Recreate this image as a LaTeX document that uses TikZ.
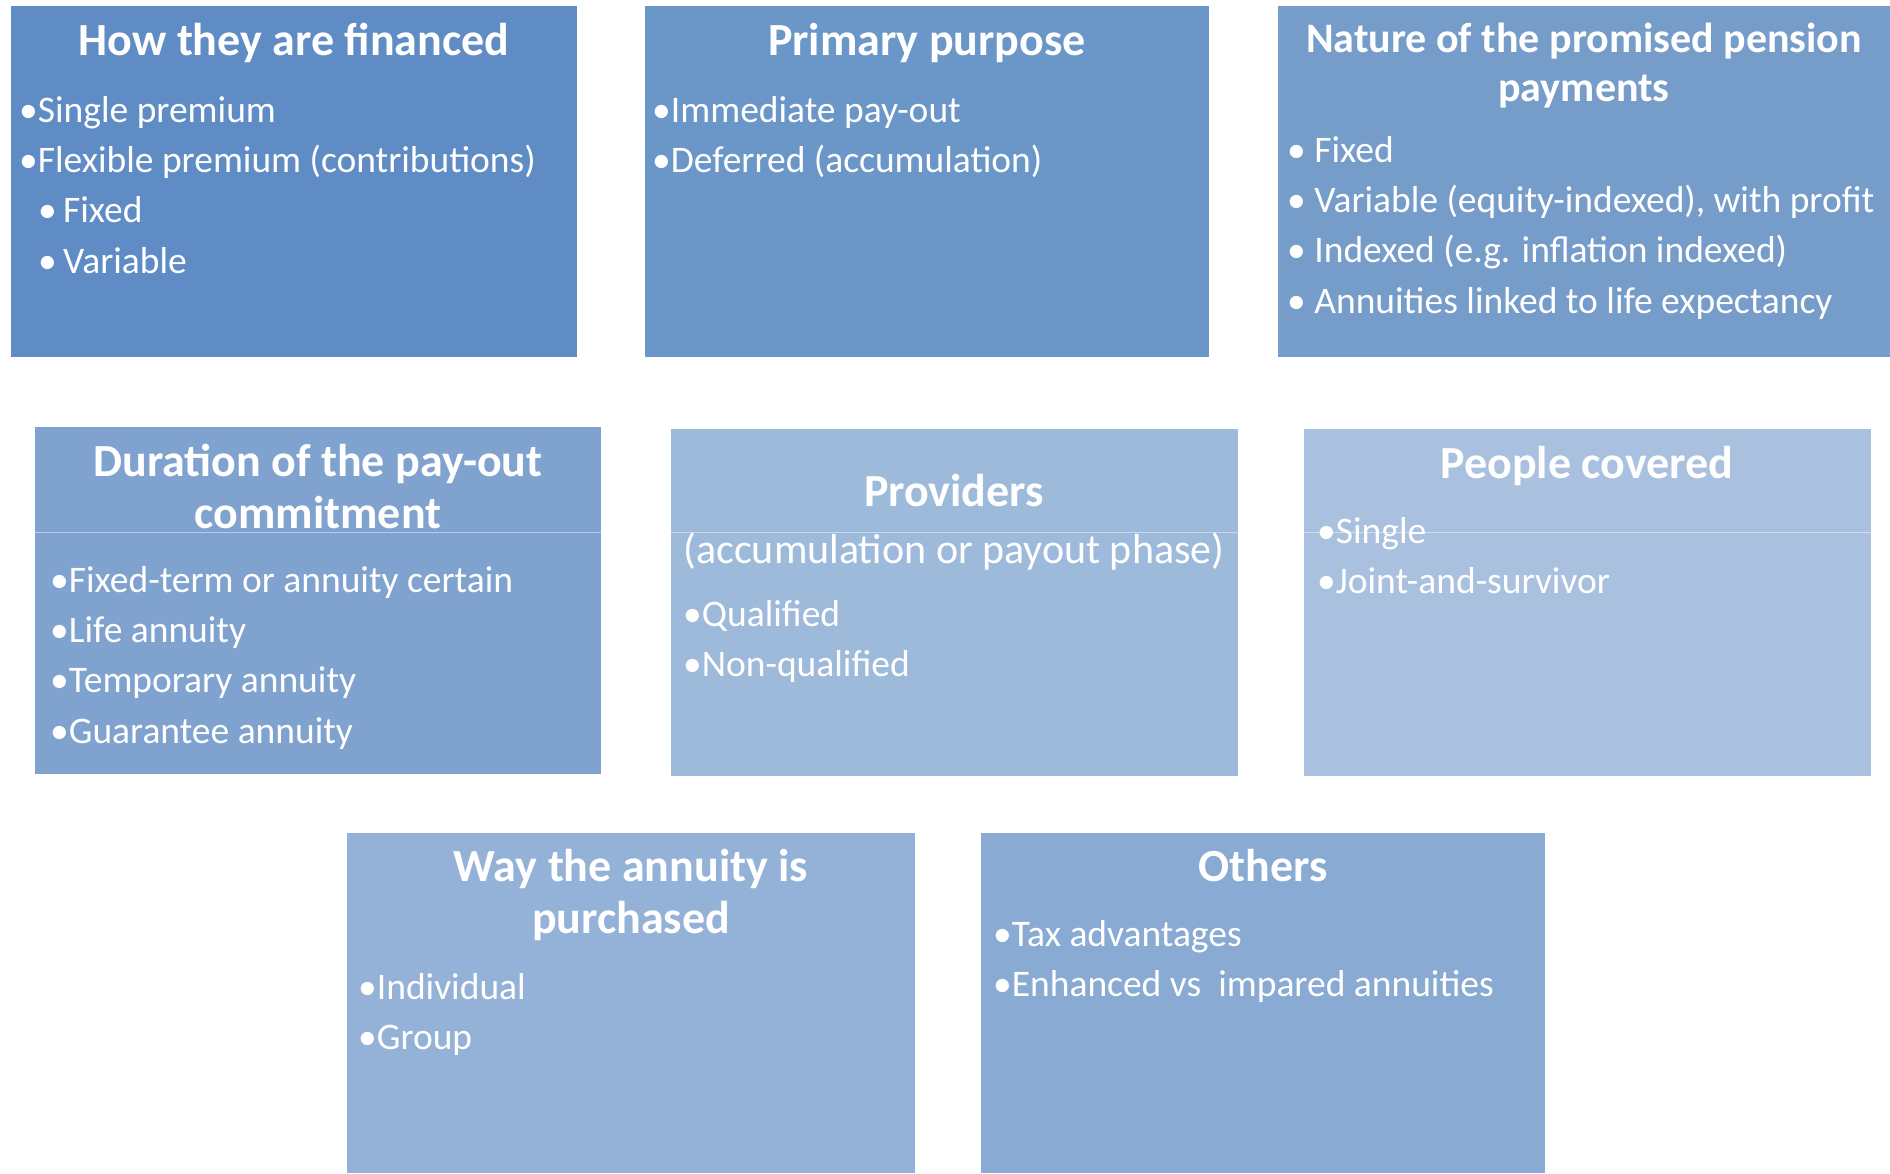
\documentclass[tikz,border=0pt]{standalone}
\usepackage{fontspec}
\setmainfont{Carlito}
\usetikzlibrary{positioning}

\definecolor{finblue}{RGB}{95,140,196}
\definecolor{purblue}{RGB}{106,150,200}
\definecolor{natblue}{RGB}{118,156,202}
\definecolor{durblue}{RGB}{127,162,207}
\definecolor{problue}{RGB}{158,186,219}
\definecolor{pplblue}{RGB}{169,192,222}
\definecolor{wayblue}{RGB}{148,177,216}
\definecolor{othblue}{RGB}{137,170,211}

\begin{document}
\begin{tikzpicture}[x=1pt, y=-1pt, node distance=16pt,
    catbox/.style={rectangle, inner sep=0pt, anchor=north west},
    ttl/.style={text=white, font=\bfseries\fontsize{46}{52}\selectfont, inner sep=0pt, text height=31pt, text depth=10pt, anchor=base},
    itm/.style={text=white, font=\fontsize{37.5}{46}\selectfont, inner sep=0pt, text height=25pt, text depth=9pt, anchor=base west},
    sepline/.style={draw=white, draw opacity=0.45, line width=1pt}]

    \useasboundingbox[fill=white] (0,0) rectangle (1890,1173);

    % boxes
    \node[catbox, fill=finblue, minimum width=566pt, minimum height=351pt] (fin) at (11,6) {};
    \node[catbox, fill=purblue, minimum width=564pt, minimum height=351pt] (pur) at (645,6) {};
    \node[catbox, fill=natblue, minimum width=612pt, minimum height=351pt] (nat) at (1278,6) {};
    \node[catbox, fill=durblue, minimum width=566pt, minimum height=347pt] (dur) at (35,427) {};
    \node[catbox, fill=problue, minimum width=567pt, minimum height=347pt] (pro) at (671,429) {};
    \node[catbox, fill=pplblue, minimum width=567pt, minimum height=347pt] (ppl) at (1304,429) {};
    \node[catbox, fill=wayblue, minimum width=568pt, minimum height=340pt] (way) at (347,833) {};
    \node[catbox, fill=othblue, minimum width=564pt, minimum height=340pt] (oth) at (981,833) {};

    \draw[sepline] ([yshift=-105pt]dur.north west) -- ([yshift=-105pt]dur.north east);
    \draw[sepline] ([yshift=-103pt]pro.north west) -- ([yshift=-103pt]pro.north east);
    \draw[sepline] ([yshift=-103pt]ppl.north west) -- ([yshift=-103pt]ppl.north east);

    % how they are financed
    \node[ttl] (fint) at (294,55) {How they are financed};
    \node[itm] (fin1) at (19,122) {•Single premium};
    \node[itm, below=of fin1.south west, anchor=north west] (fin2) {•Flexible premium (contributions)};
    \node[itm, below=of fin2.south west, anchor=north west, xshift=19pt] (fin3) {•\,Fixed};
    \node[itm, below=of fin3.south west, anchor=north west] (fin4) {•\,Variable};

    % primary purpose
    \node[ttl] (purt) at (927,55) {Primary purpose};
    \node[itm] (pur1) at (652,122) {•Immediate pay-out};
    \node[itm, below=of pur1.south west, anchor=north west] (pur2) {•Deferred (accumulation)};

    % nature of the payments
    \node[ttl, font=\bfseries\fontsize{42}{50}\selectfont] (natt) at (1584,52) {Nature of the promised pension};
    \node[ttl, font=\bfseries\fontsize{42}{50}\selectfont, below=8pt of natt] (natt2) {payments};
    \node[itm] (nat1) at (1287,162) {• Fixed};
    \node[itm, below=of nat1.south west, anchor=north west] (nat2) {• Variable (equity-indexed), with profit};
    \node[itm, below=of nat2.south west, anchor=north west] (nat3) {• Indexed (e.g. inflation indexed)};
    \node[itm, below=of nat3.south west, anchor=north west] (nat4) {• Annuities linked to life expectancy};

    % duration
    \node[ttl] (durt) at (318,476) {Duration of the pay-out};
    \node[ttl, below=11pt of durt] (durt2) {commitment};
    \node[itm] (dur1) at (50,592) {•Fixed-term or annuity certain};
    \node[itm, below=of dur1.south west, anchor=north west] (dur2) {•Life annuity};
    \node[itm, below=of dur2.south west, anchor=north west] (dur3) {•Temporary annuity};
    \node[itm, below=of dur3.south west, anchor=north west] (dur4) {•Guarantee annuity};

    % providers
    \node[ttl] (prot) at (954,506) {Providers};
    \node[itm, font=\fontsize{42}{50}\selectfont, anchor=base] (pro0) at (954,563) {(accumulation or payout phase)};
    \node[itm] (pro1) at (683,626) {•Qualified};
    \node[itm, below=of pro1.south west, anchor=north west] (pro2) {•Non-qualified};

    % people covered
    \node[ttl] (pplt) at (1587,478) {People covered};
    \node[itm] (ppl1) at (1317,543) {•Single};
    \node[itm, below=of ppl1.south west, anchor=north west] (ppl2) {•Joint-and-survivor};

    % way purchased
    \node[ttl] (wayt) at (631,881) {Way the annuity is};
    \node[ttl, below=11pt of wayt] (wayt2) {purchased};
    \node[itm] (way1) at (358,999) {•Individual};
    \node[itm, below=of way1.south west, anchor=north west] (way2) {•Group};

    % others
    \node[ttl] (otht) at (1263,881) {Others};
    \node[itm] (oth1) at (993,946) {•Tax advantages};
    \node[itm, below=of oth1.south west, anchor=north west] (oth2) {•Enhanced vs\ \ impared annuities};

\end{tikzpicture}
\end{document}
